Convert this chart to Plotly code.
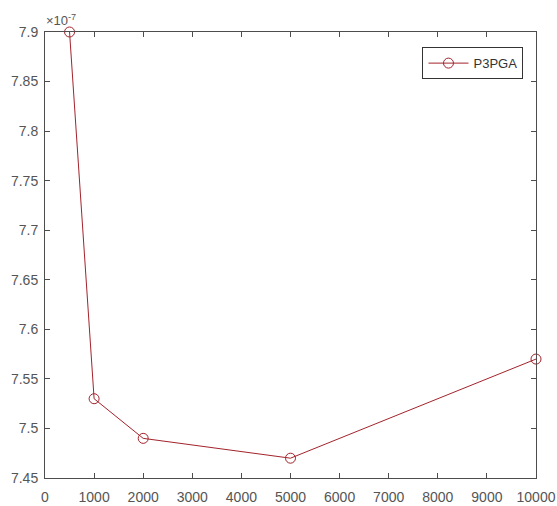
import plotly.graph_objects as go

# data (y in units of 1e-7)
x_vals = [500, 1000, 2000, 5000, 10000]
y_vals = [7.90, 7.53, 7.49, 7.47, 7.57]
series_name = "P3PGA"
x_ticks = [0, 1000, 2000, 3000, 4000, 5000, 6000, 7000, 8000, 9000, 10000]
y_ticks = [7.45, 7.5, 7.55, 7.6, 7.65, 7.7, 7.75, 7.8, 7.85, 7.9]

line_col = "#A2232B"
axis_col = "#4d4d4d"
font_col = "#555555"

fig = go.Figure()
fig.add_trace(go.Scatter(
    x=x_vals, y=y_vals, name=series_name, mode="lines+markers",
    line=dict(color=line_col, width=1),
    marker=dict(symbol="circle-open", size=10, color=line_col, line=dict(width=1)),
    cliponaxis=False,
))

axis_common = dict(
    showgrid=False, zeroline=False, showline=True, linecolor=axis_col, linewidth=1,
    mirror="ticks", ticks="inside", ticklen=5, tickcolor=axis_col, automargin=False,
    tickfont=dict(family="Liberation Sans, Arial", size=14, color=font_col),
)
fig.update_xaxes(range=[0, 10000], tickvals=x_ticks, ticklabelstandoff=6,
                 ticktext=[str(v) for v in x_ticks], **axis_common)
fig.update_yaxes(range=[7.45, 7.9], tickvals=y_ticks, ticklabelstandoff=3,
                 ticktext=[f"{v:g}" for v in y_ticks], **axis_common)

fig.add_annotation(xref="paper", yref="paper", x=0, y=1, xanchor="left", yanchor="bottom",
                   text="×10<sup>-7</sup>", showarrow=False, xshift=-1, yshift=2,
                   font=dict(family="Liberation Sans, Arial", size=13, color=font_col))

fig.update_layout(
    width=557, height=506,
    margin=dict(l=45, r=21, t=32, b=28, autoexpand=False),
    paper_bgcolor="white", plot_bgcolor="white",
    showlegend=True,
    legend=dict(x=0.9745, y=0.966, xanchor="right", yanchor="top", itemwidth=40,
                bordercolor="#333333", borderwidth=1, bgcolor="white",
                font=dict(family="Liberation Sans, Arial", size=13, color="#333333")),
)

fig.write_html("out.html", config={"displayModeBar": False},
               post_script="document.body.style.margin='0';document.body.style.overflow='hidden';")
